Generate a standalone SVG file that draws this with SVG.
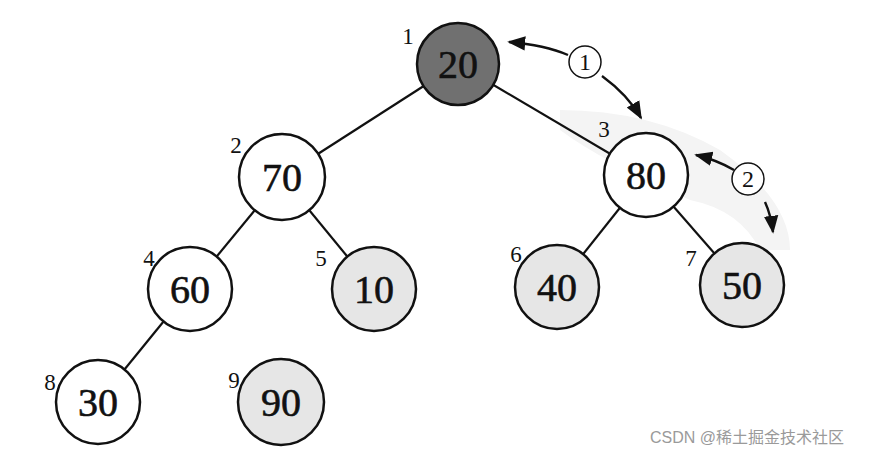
<svg xmlns="http://www.w3.org/2000/svg" width="877" height="455" viewBox="0 0 877 455">
<defs>
<style>
.n{stroke:#111;stroke-width:2.5;fill:#fff}
.g{fill:#e6e6e6}
.d{fill:#707070}
.v{font-family:"Liberation Serif",serif;font-size:40px;fill:#111;text-anchor:middle;stroke:#111;stroke-width:0.6}
.i{font-family:"Liberation Serif",serif;font-size:23px;fill:#111;text-anchor:middle}
.e{stroke:#111;stroke-width:2.2;fill:none}
.a{stroke:#111;stroke-width:2.4;fill:none}
.c{stroke:#111;stroke-width:1.5;fill:#fff}
.ct{font-family:"Liberation Serif",serif;font-size:24px;fill:#111;text-anchor:middle}
</style>
<marker id="ah2" viewBox="0 0 10 10" refX="9" refY="5" markerWidth="18" markerHeight="18" orient="auto-start-reverse" markerUnits="userSpaceOnUse">
<path d="M0,1 L10,5 L0,9 z" fill="#111"/>
</marker>
</defs>
<rect width="877" height="455" fill="#fff"/>
<path d="M560,110 Q650,110 720,150 Q790,200 790,250 L760,250 Q740,210 690,200 Q600,160 560,130 z" fill="#f4f4f4"/>
<g id="connectors">
<line class="e" x1="458" y1="64" x2="282" y2="177"/>
<line class="e" x1="458" y1="64" x2="646" y2="175"/>
<line class="e" x1="282" y1="177" x2="190" y2="289"/>
<line class="e" x1="282" y1="177" x2="374" y2="289"/>
<line class="e" x1="646" y1="175" x2="557" y2="287"/>
<line class="e" x1="646" y1="175" x2="742" y2="285"/>
<line class="e" x1="190" y1="289" x2="98" y2="402"/>
<path class="a" d="M568,55 Q545,45 509,42" marker-end="url(#ah2)"/>
<path class="a" d="M602,76 Q628,95 641,118" marker-end="url(#ah2)"/>
<path class="a" d="M734,170 Q717,160 696,155" marker-end="url(#ah2)"/>
<path class="a" d="M765,202 Q771,215 773,232" marker-end="url(#ah2)"/>
</g>
<g id="n1"><circle class="n d" cx="458" cy="64" r="41"/><text class="v" x="458" y="78">20</text><text class="i" x="408" y="44">1</text></g>
<g id="n2"><circle class="n" cx="282" cy="177" r="43"/><text class="v" x="282" y="191">70</text><text class="i" x="236" y="153">2</text></g>
<g id="n3"><circle class="n" cx="646" cy="175" r="42"/><text class="v" x="646" y="189">80</text><text class="i" x="604" y="137">3</text></g>
<g id="n4"><circle class="n" cx="190" cy="289" r="42"/><text class="v" x="190" y="303">60</text><text class="i" x="149" y="266">4</text></g>
<g id="n5"><circle class="n g" cx="374" cy="289" r="42"/><text class="v" x="374" y="303">10</text><text class="i" x="321" y="266">5</text></g>
<g id="n6"><circle class="n g" cx="557" cy="287" r="42"/><text class="v" x="557" y="301">40</text><text class="i" x="516" y="262">6</text></g>
<g id="n7"><circle class="n g" cx="742" cy="285" r="42"/><text class="v" x="742" y="299">50</text><text class="i" x="691" y="266">7</text></g>
<g id="n8"><circle class="n" cx="98" cy="402" r="42"/><text class="v" x="98" y="416">30</text><text class="i" x="50" y="390">8</text></g>
<g id="n9"><circle class="n g" cx="281" cy="402" r="43"/><text class="v" x="281" y="416">90</text><text class="i" x="234" y="388">9</text></g>
<g id="step1"><circle class="c" cx="585" cy="62" r="16"/><text class="ct" x="585" y="70">1</text></g>
<g id="step2"><circle class="c" cx="748" cy="179" r="16"/><text class="ct" x="748" y="187">2</text></g>
<text x="650" y="443" font-family="'Liberation Sans','Noto Sans CJK SC',sans-serif" font-size="16" fill="#9a9a9a">CSDN @稀土掘金技术社区</text>
</svg>
